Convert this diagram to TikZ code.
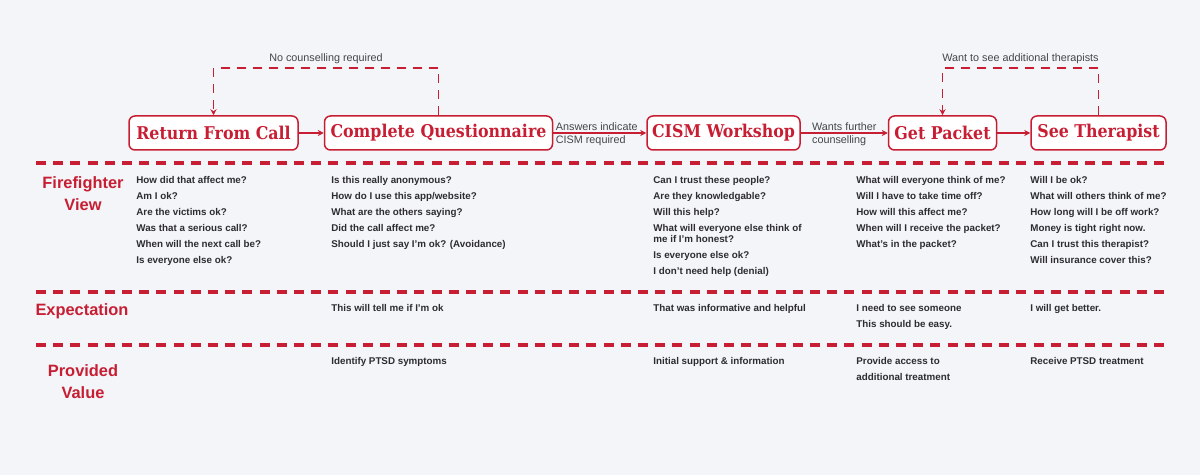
\documentclass[tikz,border=0pt]{standalone}
\usepackage{fontspec}
\setmainfont{Liberation Sans}
\newfontfamily\slabfont{DejaVu Serif Condensed}
\usetikzlibrary{arrows.meta, positioning}
\definecolor{colBg}{RGB}{243,245,248}
\definecolor{colRed}{RGB}{200,30,52}
\definecolor{colText}{RGB}{45,45,48}
\definecolor{colLabel}{RGB}{70,70,74}
\tikzset{
  stagebox/.style={
    rectangle, rounded corners=3pt,
    draw=colRed, line width=0.75pt, fill=white,
    text=colRed, font=\slabfont\bfseries\fontsize{8.8}{10}\selectfont,
    inner xsep=2pt, inner ysep=0pt, minimum height=17pt
  },
  arr/.style={
    -{Stealth[length=3pt, width=3pt]}, line width=0.65pt, color=colRed
  },
  loopline/.style={arr, line width=0.75pt, dash pattern=on 4.5pt off 3.5pt},
  sepline/.style={colRed, line width=1.6pt, dash pattern=on 5pt off 3.6pt},
  lbl/.style={font=\fontsize{5.4}{6.4}\selectfont, text=colLabel, inner sep=1pt},
  rowlbl/.style={font=\bfseries\fontsize{8.2}{11}\selectfont, text=colRed, align=center},
  qtext/.style={anchor=north west, inner sep=0pt, align=left, text=colText,
    font=\bfseries\fontsize{4.9}{5.4}\selectfont}
}

\begin{document}
\begin{tikzpicture}[x=0.5pt, y=-0.5pt]

  \fill[colBg] (0,0) rectangle (1200,475);

  % journey stages
  \node[stagebox, minimum width=84.5pt] (ret) at (213.5,133) {Return From Call};
  \node[stagebox, minimum width=114pt, right=12.5pt of ret] (quest) {Complete Questionnaire};
  \node[stagebox, minimum width=76.5pt, right=46.5pt of quest] (cism) {CISM Workshop};
  \node[stagebox, minimum width=54pt, right=43.5pt of cism] (packet) {Get Packet};
  \node[stagebox, minimum width=67.5pt, right=16.5pt of packet] (therapist) {See Therapist};

  \draw[arr] (ret) -- (quest);
  \draw[arr] (quest) -- (cism)
    node[lbl, pos=0, anchor=south west] {Answers indicate}
    node[lbl, pos=0, anchor=north west] {CISM required};
  \draw[arr] (cism) -- (packet)
    node[lbl, pos=0.1, anchor=south west] {Wants further}
    node[lbl, pos=0.1, anchor=north west] {counselling};
  \draw[arr] (packet) -- (therapist);

  % loops back
  \draw[loopline] (quest.north) -- ++(0,-47) -| node[lbl, above=1pt, pos=0.25] {No counselling required} (ret.north);
  \draw[loopline] (therapist.north) -- ++(0,-47) -| node[lbl, above=1pt, pos=0.25] {Want to see additional therapists} (packet.north);

  % row separators
  \draw[sepline] (36,163) -- (1165,163);
  \draw[sepline] (36,292) -- (1165,292);
  \draw[sepline] (36,345) -- (1165,345);

  % row titles
  \node[rowlbl] (viewlbl) at (83,194) {Firefighter\\View};
  \node[rowlbl] (expectlbl) at (82,311) {Expectation};
  \node[rowlbl] (valuelbl) at (83,381.5) {Provided\\Value};

  % firefighter view
  \node[qtext] (view1) at (136,176.5) {How did that affect me?\\[2.6pt]Am I ok?\\[2.6pt]Are the victims ok?\\[2.6pt]Was that a serious call?\\[2.6pt]When will the next call be?\\[2.6pt]Is everyone else ok?};
  \node[qtext] (view2) at (331,176.5) {Is this really anonymous?\\[2.6pt]How do I use this app/website?\\[2.6pt]What are the others saying?\\[2.6pt]Did the call affect me?\\[2.6pt]Should I just say I'm ok? (Avoidance)};
  \node[qtext] (view3) at (653,176.5) {Can I trust these people?\\[2.6pt]Are they knowledgable?\\[2.6pt]Will this help?\\[2.6pt]What will everyone else think of\\me if I'm honest?\\[2.6pt]Is everyone else ok?\\[2.6pt]I don't need help (denial)};
  \node[qtext] (view4) at (856,176.5) {What will everyone think of me?\\[2.6pt]Will I have to take time off?\\[2.6pt]How will this affect me?\\[2.6pt]When will I receive the packet?\\[2.6pt]What's in the packet?};
  \node[qtext] (view5) at (1030,176.5) {Will I be ok?\\[2.6pt]What will others think of me?\\[2.6pt]How long will I be off work?\\[2.6pt]Money is tight right now.\\[2.6pt]Can I trust this therapist?\\[2.6pt]Will insurance cover this?};

  % expectation
  \node[qtext] (expect2) at (331,304.5) {This will tell me if I'm ok};
  \node[qtext] (expect3) at (653,304.5) {That was informative and helpful};
  \node[qtext] (expect4) at (856,304.5) {I need to see someone\\[2.6pt]This should be easy.};
  \node[qtext] (expect5) at (1030,304.5) {I will get better.};

  % provided value
  \node[qtext] (value2) at (331,357.5) {Identify PTSD symptoms};
  \node[qtext] (value3) at (653,357.5) {Initial support \& information};
  \node[qtext] (value4) at (856,357.5) {Provide access to\\[2.6pt]additional treatment};
  \node[qtext] (value5) at (1030,357.5) {Receive PTSD treatment};

\end{tikzpicture}
\end{document}
